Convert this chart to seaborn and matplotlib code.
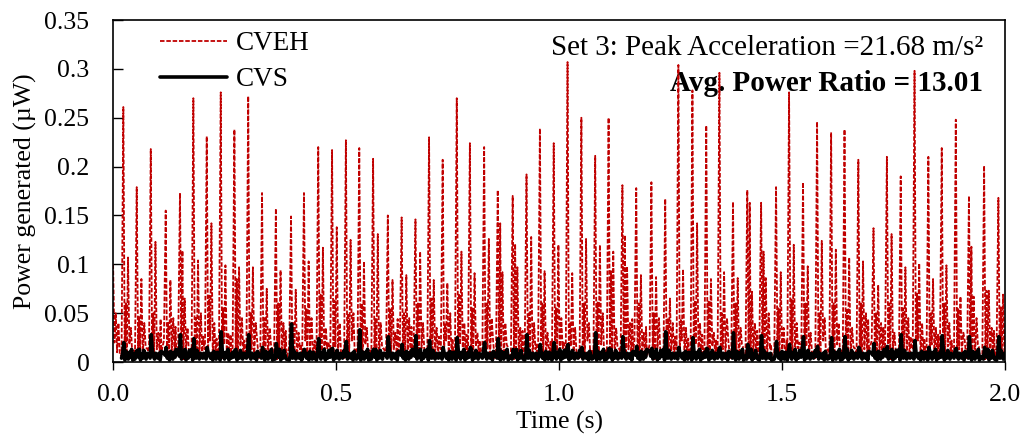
import matplotlib
matplotlib.use("Agg")
import numpy as np
import pandas as pd
import seaborn as sns
import matplotlib.pyplot as plt

# main spike times (s) and heights (uW) of the CVEH trace
peak_t = [0.023, 0.053, 0.0845, 0.118, 0.150, 0.180, 0.210, 0.2414,
          0.272, 0.303, 0.334, 0.365, 0.399, 0.428, 0.460, 0.491,
          0.522, 0.552, 0.583, 0.616, 0.647, 0.678, 0.7085, 0.739,
          0.7706, 0.800, 0.832, 0.8625, 0.896, 0.927, 0.957, 0.988,
          1.019, 1.050, 1.081, 1.111, 1.142, 1.173, 1.207, 1.238,
          1.2675, 1.299, 1.330, 1.3595, 1.390, 1.422, 1.453, 1.4865,
          1.5157, 1.547, 1.5785, 1.610, 1.640, 1.671, 1.705, 1.735,
          1.766, 1.797, 1.828, 1.858, 1.8895, 1.919, 1.953, 1.985]
peak_p = [0.261, 0.179, 0.218, 0.155, 0.173, 0.270, 0.231, 0.276,
          0.238, 0.272, 0.173, 0.157, 0.149, 0.173, 0.220, 0.217,
          0.227, 0.219, 0.208, 0.150, 0.148, 0.146, 0.230, 0.207,
          0.270, 0.224, 0.220, 0.176, 0.170, 0.192, 0.239, 0.224,
          0.307, 0.250, 0.211, 0.250, 0.181, 0.178, 0.184, 0.167,
          0.304, 0.278, 0.242, 0.296, 0.164, 0.176, 0.163, 0.179,
          0.276, 0.184, 0.246, 0.235, 0.238, 0.207, 0.137, 0.210,
          0.190, 0.298, 0.210, 0.219, 0.248, 0.170, 0.201, 0.168]
# secondary spike ~10 ms after each main one
sec_p = [0.107, 0.085, 0.123, 0.084, 0.065, 0.104, 0.142, 0.099,
         0.097, 0.097, 0.075, 0.094, 0.074, 0.103, 0.117, 0.138,
         0.125, 0.103, 0.131, 0.084, 0.089, 0.113, 0.084, 0.081,
         0.113, 0.091, 0.126, 0.092, 0.097, 0.128, 0.093, 0.120,
         0.091, 0.126, 0.120, 0.113, 0.098, 0.089, 0.087, 0.065,
         0.095, 0.142, 0.085, 0.092, 0.086, 0.072, 0.086, 0.092,
         0.120, 0.098, 0.124, 0.115, 0.107, 0.103, 0.079, 0.131,
         0.097, 0.101, 0.085, 0.099, 0.067, 0.067, 0.073, 0.069]
# small bumps between spikes
low1 = [0.060, 0.046, 0.050, 0.040, 0.114, 0.045, 0.068, 0.055,
        0.085, 0.050, 0.045, 0.060, 0.040, 0.055, 0.070, 0.063,
        0.050, 0.060, 0.045, 0.055, 0.050, 0.060, 0.065, 0.040,
        0.070, 0.055, 0.060, 0.142, 0.121, 0.050, 0.060, 0.055,
        0.041, 0.060, 0.061, 0.093, 0.130, 0.060, 0.050, 0.045,
        0.043, 0.063, 0.063, 0.050, 0.060, 0.163, 0.113, 0.055,
        0.064, 0.060, 0.050, 0.060, 0.055, 0.060, 0.050, 0.060,
        0.055, 0.070, 0.050, 0.060, 0.055, 0.118, 0.073, 0.056]
low2 = [0.035, 0.040, 0.030, 0.045, 0.035, 0.050, 0.040, 0.030,
        0.045, 0.040, 0.035, 0.040, 0.030, 0.045, 0.035, 0.040,
        0.050, 0.035, 0.040, 0.030, 0.045, 0.040, 0.035, 0.050,
        0.040, 0.030, 0.045, 0.040, 0.035, 0.040, 0.030, 0.045,
        0.035, 0.040, 0.050, 0.035, 0.040, 0.030, 0.045, 0.040,
        0.035, 0.040, 0.030, 0.045, 0.035, 0.040, 0.050, 0.035,
        0.040, 0.030, 0.045, 0.040, 0.035, 0.050, 0.040, 0.030,
        0.045, 0.040, 0.035, 0.040, 0.030, 0.045, 0.035, 0.040]
floor_red = [0.006, 0.012, 0.004, 0.018, 0.008, 0.003, 0.014, 0.010,
             0.005, 0.016, 0.007, 0.011, 0.004, 0.013, 0.009, 0.022, 0.006]
start_t = [0.0, 0.003, 0.006, 0.009, 0.012, 0.015]
start_p = [0.100, 0.020, 0.050, 0.010, 0.040, 0.008]

# CVS bumps, one per cycle
cvs_p = [0.020, 0.012, 0.028, 0.015, 0.028, 0.024, 0.015, 0.031,
         0.012, 0.028, 0.015, 0.019, 0.039, 0.013, 0.024, 0.014,
         0.021, 0.033, 0.013, 0.026, 0.018, 0.027, 0.022, 0.015,
         0.025, 0.015, 0.020, 0.024, 0.013, 0.028, 0.018, 0.020,
         0.018, 0.015, 0.030, 0.014, 0.026, 0.016, 0.014, 0.031,
         0.015, 0.025, 0.014, 0.015, 0.030, 0.018, 0.027, 0.021,
         0.018, 0.026, 0.016, 0.025, 0.026, 0.015, 0.019, 0.016,
         0.028, 0.022, 0.015, 0.027, 0.014, 0.026, 0.015, 0.026]
floor_cvs = [0.004, 0.009, 0.002, 0.011, 0.006, 0.003, 0.010, 0.005,
             0.013, 0.002, 0.008, 0.004, 0.012, 0.006, 0.003, 0.009, 0.007]

red_off = [-0.004, 0.0, 0.003, 0.0055, 0.0075, 0.0105, 0.0135, 0.017, 0.020, 0.022, 0.024]
blk_off = [-0.004, -0.0015, 0.001, 0.0035, 0.006, 0.0085, 0.011, 0.0135, 0.016, 0.0185, 0.021, 0.0235]

t_veh, p_veh = list(start_t), list(start_p)
t_vs, p_vs = [], []
k = 0
for i, t0 in enumerate(peak_t):
    fr = [floor_red[(k + j) % len(floor_red)] for j in range(6)]
    vals = [fr[0], peak_p[i], fr[1], low1[i], fr[2], sec_p[i], fr[3], low2[i], fr[4], fr[5] * 2, fr[1]]
    for o, v in zip(red_off, vals):
        t_veh.append(t0 + o)
        p_veh.append(v)
    fb = [floor_cvs[(k + j) % len(floor_cvs)] for j in range(12)]
    bv = [fb[0], fb[1], cvs_p[i], fb[2], fb[3], fb[4], fb[5], fb[6], fb[7], fb[8], fb[9], fb[10]]
    for o, v in zip(blk_off, bv):
        t_vs.append(t0 + o)
        p_vs.append(v)
    k += 5

df_veh = pd.DataFrame({"t": t_veh, "p": p_veh})
df_vs = pd.DataFrame({"t": t_vs, "p": p_vs})

sns.set_theme(style="white")
plt.rcParams["font.family"] = ["Liberation Serif", "DejaVu Serif"]
plt.rcParams["text.color"] = "black"
plt.rcParams["axes.labelcolor"] = "black"
plt.rcParams["xtick.color"] = "black"
plt.rcParams["ytick.color"] = "black"

fig = plt.figure(figsize=(10.28, 4.41), dpi=100)
ax = fig.add_axes([0.110, 0.179, 0.8677, 0.7756])

sns.lineplot(data=df_veh, x="t", y="p", ax=ax, color="#C00000", lw=1.3,
             linestyle=(0, (2.5, 1.0)), estimator=None, sort=False, label="CVEH")
sns.lineplot(data=df_vs, x="t", y="p", ax=ax, color="black", lw=2.6,
             estimator=None, sort=False, label="CVS")

ax.set_xlim(0, 2.0)
ax.set_ylim(0, 0.35)
ax.set_xticks([0, 0.5, 1.0, 1.5, 2.0])
ax.set_xticklabels(["0.0", "0.5", "1.0", "1.5", "2.0"])
ax.set_yticks([0, 0.05, 0.1, 0.15, 0.2, 0.25, 0.3, 0.35])
ax.set_yticklabels(["0", "0.05", "0.1", "0.15", "0.2", "0.25", "0.3", "0.35"])
ax.tick_params(axis="y", direction="in", length=7, width=1, labelsize=18.5, left=True, pad=17)
ax.tick_params(axis="x", direction="out", length=6, width=1, labelsize=18.5, bottom=True, pad=10)
for s in ax.spines.values():
    s.set_color("black")
    s.set_linewidth(1.2)

ax.set_xlabel("Time (s)", fontsize=18.5, labelpad=3)
ax.set_ylabel("Power generated (\u00b5W)", fontsize=18.5)
ax.yaxis.set_label_coords(-0.085, 0.5)

ax.text(0.975, 0.917, "Set 3: Peak Acceleration =21.68 m/s\u00b2", transform=ax.transAxes,
        ha="right", va="center", fontsize=21, zorder=1)
ax.text(0.975, 0.815, "Avg. Power Ratio = 13.01", transform=ax.transAxes,
        ha="right", va="center", fontsize=21, fontweight="bold", zorder=1)

leg = ax.legend(loc="upper left", bbox_to_anchor=(0.040, 0.999), frameon=False,
                borderaxespad=0, fontsize=19.5, handlelength=2.5, handletextpad=0.33,
                labelspacing=0.4)

fig.savefig("out.png", dpi=100)
